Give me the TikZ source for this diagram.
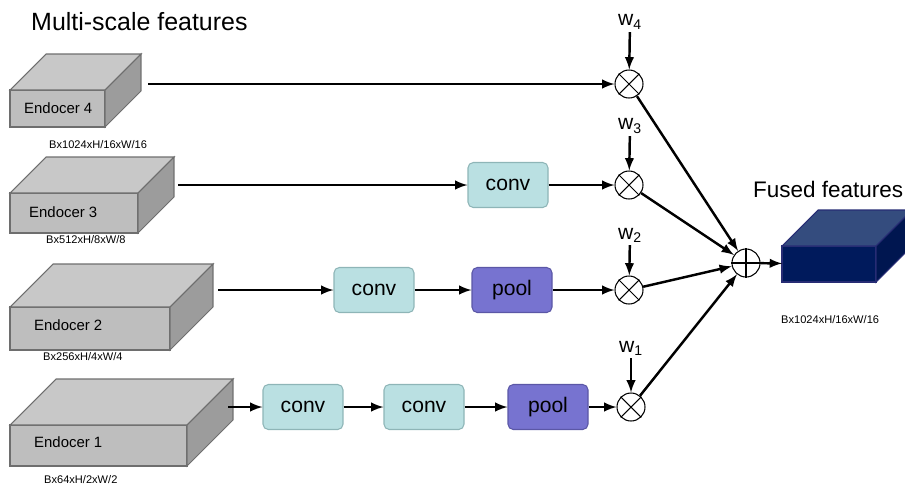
\documentclass[tikz,border=0pt]{standalone}
\usepackage{fontspec}
\setmainfont{Liberation Sans}
\usetikzlibrary{positioning}
\definecolor{cubefront}{HTML}{BEBEBE}
\definecolor{cubetop}{HTML}{C8C8C8}
\definecolor{cuberight}{HTML}{9C9C9C}
\definecolor{cubeline}{HTML}{6E6E6E}
\definecolor{navyfront}{HTML}{001A5C}
\definecolor{navytop}{HTML}{344C7E}
\definecolor{navyright}{HTML}{001650}
\definecolor{navyline}{HTML}{272C74}
\definecolor{convfill}{HTML}{BAE0E2}
\definecolor{convline}{HTML}{8EB5B7}
\definecolor{poolfill}{HTML}{7773D0}
\definecolor{poolline}{HTML}{5B57A6}
\begin{document}
\begin{tikzpicture}[x=0.02cm,y=-0.02cm,line width=1.4pt,
  face/.style={draw=cubeline,fill=cubefront,line width=0.6pt,inner sep=0pt,outer sep=0pt},
  navy/.style={draw=navyline,fill=navyfront,line width=0.6pt,inner sep=0pt,outer sep=0pt},
  box/.style={draw,rounded corners=3pt,minimum width=1.6cm,minimum height=0.9cm,line width=0.6pt,font=\fontsize{12}{14}\selectfont},
  convbox/.style={box,fill=convfill,draw=convline},
  poolbox/.style={box,fill=poolfill,draw=poolline},
  mult/.style={draw,circle,minimum size=0.56cm,inner sep=0pt,line width=0.6pt},
  wlab/.style={inner sep=1pt,font=\fontsize{12}{14}\selectfont},
  enclab/.style={right,inner sep=0pt,font=\fontsize{8.5}{10}\selectfont},
  dimlab/.style={right,inner sep=0pt,font=\fontsize{6.3}{7}\selectfont},
  title/.style={right,inner sep=0pt,font=\fontsize{14.2}{16}\selectfont},
  arr/.style={-latex}]
\useasboundingbox (0,0) rectangle (905,485);
% encoder cubes, front faces
\node[face,minimum width=1.9cm,minimum height=0.74cm] (e4) at (57.5,108.5) {};
\node[face,minimum width=2.56cm,minimum height=0.8cm] (e3) at (74,213) {};
\node[face,minimum width=3.2cm,minimum height=0.86cm] (e2) at (90,328.5) {};
\node[face,minimum width=3.54cm,minimum height=0.82cm] (e1) at (98.5,445.5) {};
\foreach \n/\d in {4/36,3/36,2/43,1/46}{
  \draw[face,fill=cubetop](e\n.north west)--++(\d,-\d)--([shift={(\d,-\d)}]e\n.north east)--(e\n.north east)--cycle;
  \draw[face,fill=cuberight](e\n.north east)--++(\d,-\d)--([shift={(\d,-\d)}]e\n.south east)--(e\n.south east)--cycle;
}
\node[enclab] (l4) at (23,108) {Endocer 4};
\node[enclab] (l3) at (28,212) {Endocer 3};
\node[enclab] (l2) at (33,325) {Endocer 2};
\node[enclab] (l1) at (33,442) {Endocer 1};
\node[dimlab] (d4) at (48,145) {Bx1024xH/16xW/16};
\node[dimlab] (d3) at (45,240) {Bx512xH/8xW/8};
\node[dimlab] (d2) at (42,357) {Bx256xH/4xW/4};
\node[dimlab] (d1) at (43,480) {Bx64xH/2xW/2};
\node[title] (t1) at (30,22) {Multi-scale features};
% fused cube
\node[navy,minimum width=1.88cm,minimum height=0.72cm] (f) at (829,264) {};
\draw[navy,fill=navytop](f.north west)--++(36,-36)--([shift={(36,-36)}]f.north east)--(f.north east)--cycle;
\draw[navy,fill=navyright](f.north east)--++(36,-36)--([shift={(36,-36)}]f.south east)--(f.south east)--cycle;
\node[title,font=\fontsize{12.8}{15}\selectfont] (t2) at (752,189) {Fused features};
\node[dimlab] (d5) at (780,320) {Bx1024xH/16xW/16};
% conv / pool blocks
\node[convbox] (c3) at (508,185) {conv};
\node[convbox] (c2) at (374,290) {conv};
\node[poolbox] (p2) at (512,290) {pool};
\node[convbox] (c1a) at (303,407) {conv};
\node[convbox] (c1b) at (424,407) {conv};
\node[poolbox] (p1) at (548,407) {pool};
% weights and fusion
\node[mult] (m4) at (629,84) {};
\node[mult] (m3) at (629,185) {};
\node[mult] (m2) at (629,290) {};
\node[mult] (m1) at (631,407) {};
\node[mult] (s) at (746,263) {};
\foreach \i in {1,...,4}
  \draw[line width=0.6pt](m\i.north west)--(m\i.south east)(m\i.north east)--(m\i.south west);
\draw[line width=0.6pt](s.north)--(s.south)(s.west)--(s.east);
\node[wlab] (w4) at (630,22) {w\textsubscript{4}};
\node[wlab] (w3) at (630,126) {w\textsubscript{3}};
\node[wlab] (w2) at (630,235) {w\textsubscript{2}};
\node[wlab] (w1) at (631,348) {w\textsubscript{1}};
\coordinate (e4o) at (148,84);
\coordinate (e3o) at (178,185);
\coordinate (e2o) at (218,290);
\coordinate (e1o) at (228,407);
% connectors
\draw[arr](e4o)--(m4);
\draw[arr](e3o)--(c3);
\draw[arr](c3)--(m3);
\draw[arr](e2o)--(c2);
\draw[arr](c2)--(p2);
\draw[arr](p2)--(m2);
\draw[arr](e1o)--(c1a);
\draw[arr](c1a)--(c1b);
\draw[arr](c1b)--(p1);
\draw[arr](p1)--(m1);
\foreach \i in {1,...,4}{
  \draw[arr](w\i)--(m\i);
  \draw[arr](m\i)--(s);
}
\draw[arr](s)--(f);
\end{tikzpicture}
\end{document}
